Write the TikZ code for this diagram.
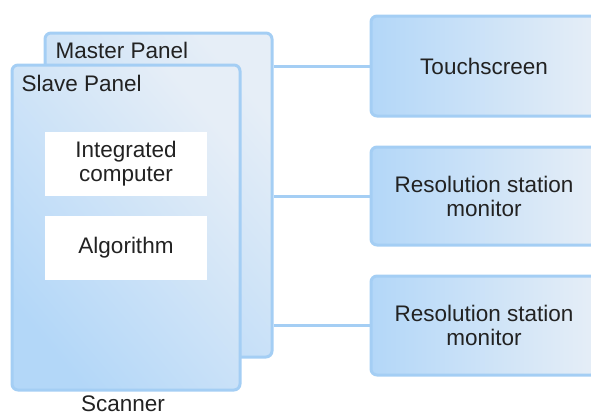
\documentclass[tikz,border=0pt]{standalone}
\usepackage{fontspec}
\setmainfont{Liberation Sans}
\usetikzlibrary{positioning}
\definecolor{edgeblue}{HTML}{A4CEF4}
\definecolor{deepblue}{HTML}{B3D7F8}
\definecolor{paleblue}{HTML}{E6EEF7}
\definecolor{inkgray}{HTML}{222222}
\tikzset{
	panel/.style={draw=edgeblue, line width=3pt, rounded corners=6pt,
		top color=paleblue, bottom color=deepblue, shading angle=-50,
		inner sep=0pt},
	unit/.style={draw=edgeblue, line width=3pt, rounded corners=6pt,
		left color=deepblue, right color=paleblue,
		minimum width=226pt, inner sep=0pt, align=center},
	part/.style={fill=white, minimum width=162pt, minimum height=64pt,
		inner sep=0pt, align=center},
	wire/.style={draw=edgeblue, line width=3pt},
}
\begin{document}
\begin{tikzpicture}[x=1pt, y=-1pt, text=inkgray,
	font=\fontsize{22.5}{24}\selectfont]
	\useasboundingbox (0,0) rectangle (591,415);
	\clip (0,0) rectangle (591,415);

	% panels, master behind slave
	\node[panel, minimum width=227pt, minimum height=324pt] (master) at (158.5,195) {};
	\node[panel, minimum width=228pt, minimum height=325pt] (slave) at (126,227.5) {};
	\node[anchor=west] (mastertext) at (52,50) {Master Panel};
	\node[anchor=west] (slavetext) at (18,83) {Slave Panel};
	\node (scanner) at (123,404) {Scanner};

	\node[part] (computer) at (126,163.5) {Integrated\\computer};
	\node[part] (algo) at (126,247.5) {Algorithm};

	% units on the right
	\node[unit, minimum height=100pt] (touch) at (484,66) {Touchscreen};
	\node[unit, minimum height=98pt] (monitora) at (484,196) {Resolution station\\monitor};
	\node[unit, minimum height=99pt] (monitorb) at (484,325.5) {Resolution station\\monitor};

	\foreach \u in {touch, monitora, monitorb}{%
		\draw[wire] (master.east |- \u.west) -- (\u.west);
	}
\end{tikzpicture}
\end{document}
